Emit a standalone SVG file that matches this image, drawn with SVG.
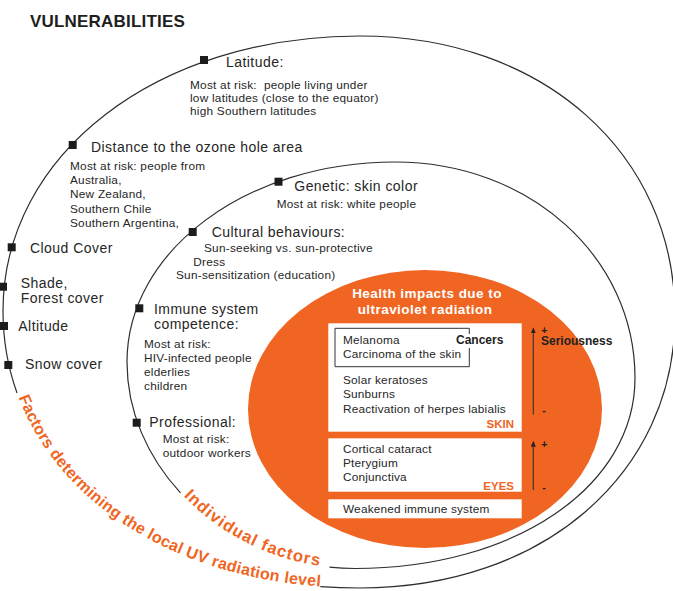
<svg xmlns="http://www.w3.org/2000/svg" width="673" height="591" viewBox="0 0 673 591">
  <style>
    text { font-family: "Liberation Sans", Arial, Helvetica, sans-serif; fill: #262626; }
    .title { font-size: 17px; font-weight: bold; letter-spacing: 0.2px; fill: #1e1e1e; }
    .head { font-size: 14px; letter-spacing: 0.45px; }
    .body { font-size: 11.8px; letter-spacing: 0.25px; }
    .box { font-size: 11.8px; letter-spacing: 0.2px; }
    .mk { fill: #1c1c1c; }
    .ring { fill: none; stroke: #2e2e2e; stroke-width: 1.2; }
    .arc-label { font-weight: bold; fill: #F06522; }
    .arc-outer { font-size: 16px; letter-spacing: 0.3px; }
    .arc-inner { font-size: 16.5px; letter-spacing: 1.1px; }
    .core { fill: #F06522; }
    .panel { fill: #ffffff; }
    .impact-title { font-size: 13.5px; font-weight: bold; fill: #ffffff; letter-spacing: 0.45px; text-anchor: middle; }
    .tag { font-size: 11.5px; font-weight: bold; fill: #F06522; text-anchor: end; }
    .strong { font-size: 12px; font-weight: bold; fill: #222; }
    .sign { font-size: 10.5px; font-weight: bold; fill: #222; }
    .scale { stroke: #333; stroke-width: 1.1; fill: none; }
  </style>
  <defs>
    <!-- lower-left quarters of the two rings, used as baselines for the curved captions -->
    <path id="p-outer" d="M3,311 C3,471.7 152.9,588 360,588"/>
    <path id="p-inner" d="M127,362 C127,473.5 231.9,568.5 355,568.5"/>
    <marker id="tip" viewBox="0 0 6 5" markerWidth="6" markerHeight="5" refX="0" refY="2.5" orient="auto" markerUnits="userSpaceOnUse">
      <path d="M0,0 L6,2.5 L0,5 z" fill="#222"/>
    </marker>
  </defs>

  <text class="title" x="30" y="27">VULNERABILITIES</text>

  <!-- ring outlines, interrupted where the curved captions sit -->
  <g id="connectors">
    <path class="ring" d="M320.35,586.55 C333.3,587.51 346.5,588 360,588 C542.7,588 675,473.8 675,316 C675,153.6 542.7,36 360,36 C156.5,36 3,154.3 3,311 C3,339.9 7.86,367.4 17.03,393"/>
    <path class="ring" d="M329.44,567.13 C337.85,568.03 346.38,568.5 355,568.5 C514.6,568.5 635,486.6 635,378 C635,257 529.4,162 395,162 C246.3,162 127,251 127,362 C127,411.06 147.31,456.93 180.54,492.91"/>
  </g>

  <!-- curved captions, one word per element so each stays on its stretch of the ring -->
  <g id="ring-labels">
    <text class="arc-label arc-outer"><textPath href="#p-outer" startOffset="88">Factors</textPath></text>
    <text class="arc-label arc-outer"><textPath href="#p-outer" startOffset="152.64">determining</textPath></text>
    <text class="arc-label arc-outer"><textPath href="#p-outer" startOffset="252.26">the</textPath></text>
    <text class="arc-label arc-outer"><textPath href="#p-outer" startOffset="281.91">local</textPath></text>
    <text class="arc-label arc-outer"><textPath href="#p-outer" startOffset="324.62">UV</textPath></text>
    <text class="arc-label arc-outer"><textPath href="#p-outer" startOffset="352.19">radiation</textPath></text>
    <text class="arc-label arc-outer"><textPath href="#p-outer" startOffset="427.21">level</textPath></text>
    <text class="arc-label arc-inner"><textPath href="#p-inner" startOffset="149">Individual</textPath></text>
    <text class="arc-label arc-inner"><textPath href="#p-inner" startOffset="242.71">factors</textPath></text>
  </g>

  <!-- outer ring: environmental factors -->
  <g id="latitude">
    <rect class="mk" x="200" y="56" width="8" height="8"/>
    <text class="head" x="226" y="67">Latitude:</text>
    <text class="body" x="190" y="89" xml:space="preserve">Most at risk:  people living under</text>
    <text class="body" x="190" y="102">low latitudes (close to the equator)</text>
    <text class="body" x="190" y="115">high Southern latitudes</text>
  </g>
  <g id="ozone-distance">
    <rect class="mk" x="68.7" y="141" width="8" height="8"/>
    <text class="head" x="91" y="152">Distance to the ozone hole area</text>
    <text class="body" x="70" y="170">Most at risk: people from</text>
    <text class="body" x="70" y="184.3">Australia,</text>
    <text class="body" x="70" y="198.3">New Zealand,</text>
    <text class="body" x="70" y="212.7">Southern Chile</text>
    <text class="body" x="70" y="226.7">Southern Argentina,</text>
  </g>
  <g id="cloud-cover">
    <rect class="mk" x="7.7" y="243.3" width="8" height="8"/>
    <text class="head" x="30" y="252.7">Cloud Cover</text>
  </g>
  <g id="shade">
    <rect class="mk" x="-1" y="282.7" width="8" height="8"/>
    <text class="head" x="20.7" y="288">Shade,</text>
    <text class="head" x="20.7" y="302.5">Forest cover</text>
  </g>
  <g id="altitude">
    <rect class="mk" x="0" y="322" width="8" height="8"/>
    <text class="head" x="18.3" y="330.7">Altitude</text>
  </g>
  <g id="snow-cover">
    <rect class="mk" x="4.3" y="361" width="8" height="8"/>
    <text class="head" x="25" y="369.3">Snow cover</text>
  </g>

  <!-- inner ring: individual factors -->
  <g id="genetic">
    <rect class="mk" x="274.5" y="177.7" width="8" height="8"/>
    <text class="head" x="294.3" y="191">Genetic: skin color</text>
    <text class="body" x="276.7" y="207.5">Most at risk: white people</text>
  </g>
  <g id="cultural">
    <rect class="mk" x="188.7" y="228" width="8" height="8"/>
    <text class="head" x="211.7" y="236.5">Cultural behaviours:</text>
    <text class="body" x="204" y="251.7">Sun-seeking vs. sun-protective</text>
    <text class="body" x="193.3" y="266">Dress</text>
    <text class="body" x="176" y="279.3">Sun-sensitization (education)</text>
  </g>
  <g id="immune">
    <rect class="mk" x="135.3" y="304.3" width="8" height="8"/>
    <text class="head" x="154" y="314">Immune system</text>
    <text class="head" x="154" y="329.3">competence:</text>
    <text class="body" x="144" y="347.7">Most at risk:</text>
    <text class="body" x="144" y="362.3">HIV-infected people</text>
    <text class="body" x="144" y="376">elderlies</text>
    <text class="body" x="144" y="390">children</text>
  </g>
  <g id="professional">
    <rect class="mk" x="132.7" y="418.7" width="8" height="8"/>
    <text class="head" x="149.3" y="427.3">Professional:</text>
    <text class="body" x="162.7" y="443.3">Most at risk:</text>
    <text class="body" x="162.7" y="457.3">outdoor workers</text>
  </g>

  <!-- core: health impacts -->
  <g id="health-impacts">
    <ellipse class="core" cx="425" cy="409" rx="177" ry="139"/>
    <text class="impact-title" x="427" y="298.3">Health impacts due to</text>
    <text class="impact-title" x="425" y="314">ultraviolet radiation</text>
  </g>
  <g id="skin">
    <rect class="panel" x="328.3" y="323.3" width="193.4" height="108.4"/>
    <path d="M469.3,334 V328.3 H335 V366.7 H469.3 V348" fill="none" stroke="#333" stroke-width="1"/>
    <text class="box" x="343" y="344">Melanoma</text>
    <text class="strong" x="456" y="344">Cancers</text>
    <text class="box" x="343" y="357.7">Carcinoma of the skin</text>
    <text class="box" x="343" y="384">Solar keratoses</text>
    <text class="box" x="343" y="398.3">Sunburns</text>
    <text class="box" x="343" y="412.7">Reactivation of herpes labialis</text>
    <text class="tag" x="514" y="427.7">SKIN</text>
  </g>
  <g id="eyes">
    <rect class="panel" x="328.3" y="438.3" width="193.4" height="53.4"/>
    <text class="box" x="343" y="452.7">Cortical cataract</text>
    <text class="box" x="343" y="466.5">Pterygium</text>
    <text class="box" x="343" y="480.7">Conjunctiva</text>
    <text class="tag" x="514" y="490">EYES</text>
  </g>
  <g id="immune-system">
    <rect class="panel" x="328.3" y="499.3" width="193.4" height="19"/>
    <text class="box" x="343" y="513.3">Weakened immune system</text>
  </g>
  <g id="seriousness">
    <line class="scale" x1="533.3" y1="414.5" x2="533.3" y2="333.3" marker-end="url(#tip)"/>
    <line class="scale" x1="533.3" y1="490" x2="533.3" y2="446.7" marker-end="url(#tip)"/>
    <text class="sign" x="541.3" y="333.7">+</text>
    <text class="sign" x="542.3" y="414">-</text>
    <text class="sign" x="541.3" y="448">+</text>
    <text class="sign" x="542.3" y="491.3">-</text>
    <text class="strong" x="541" y="345.3">Seriousness</text>
  </g>
</svg>
